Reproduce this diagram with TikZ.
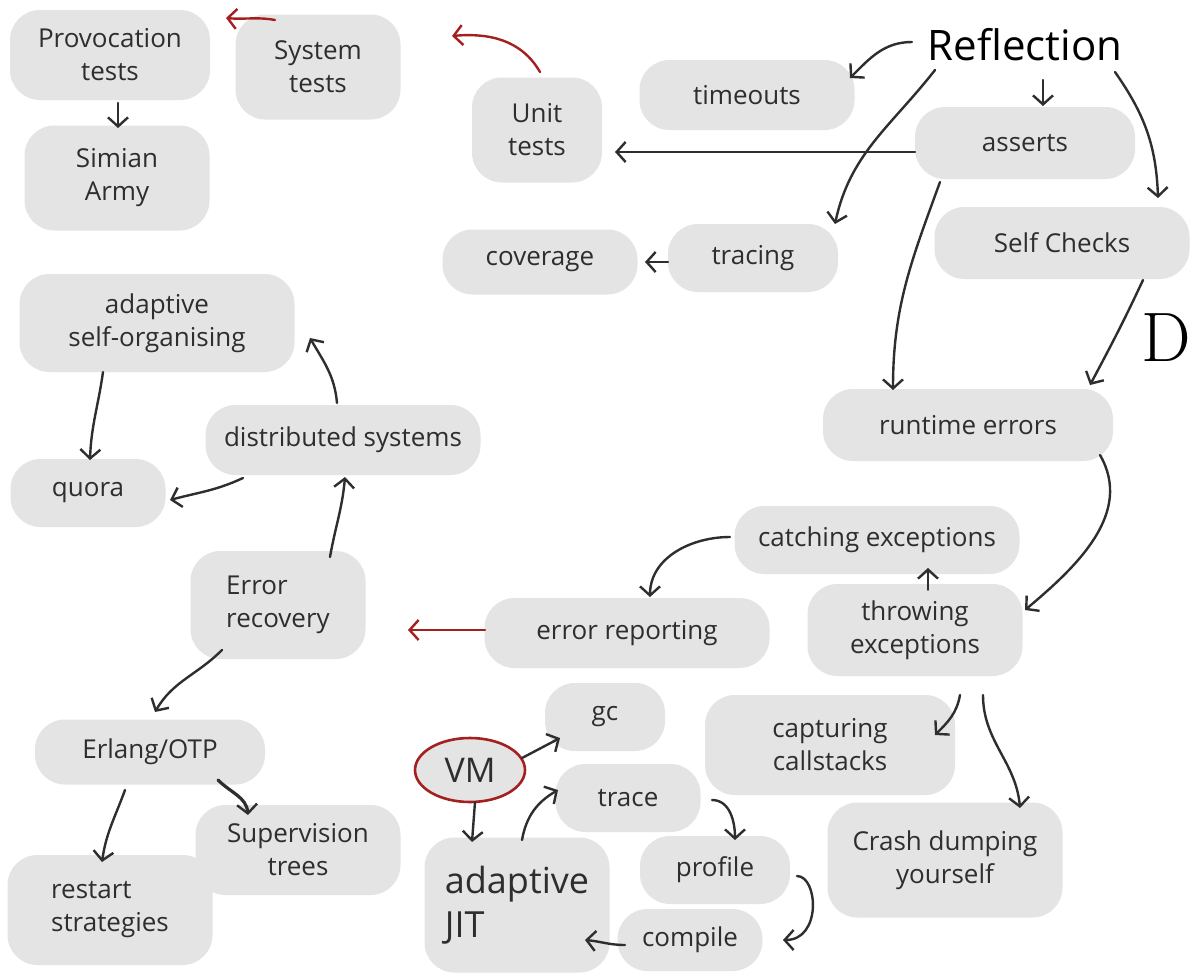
\documentclass[tikz,border=0pt]{standalone}
\usepackage{fontspec}
\setmainfont{Open Sans}
\newfontfamily\markfont{Latin Modern Roman}
\usetikzlibrary{arrows.meta,shapes.geometric}
\definecolor{blobgray}{HTML}{E4E4E4}
\definecolor{ink}{HTML}{2E2E2E}
\definecolor{redink}{HTML}{A3201F}
\tikzset{
  blob/.style={fill=blobgray, rounded corners=30pt, inner sep=0pt,
    align=center, text=ink, font=\fontsize{26}{33}\selectfont},
  link/.style={draw=ink, line width=2.4pt, line cap=round,
    -{Straight Barb[length=9pt,width=20pt,line width=2.4pt]}},
  redlink/.style={link, draw=redink},
}
\begin{document}
\begin{tikzpicture}[x=1pt,y=1pt]
\useasboundingbox (0,0) rectangle (1192,-978);
\fill[white] (0,0) rectangle (1192,-978);

% testing cluster
\node[blob, minimum width=200, minimum height=90] (prov) at (110,-55) {Provocation\\tests};
\node[blob, minimum width=185, minimum height=105] (simian) at (117,-178) {Simian\\Army};
\node[blob, minimum width=165, minimum height=105] (system) at (318,-67) {System\\tests};
\node[blob, minimum width=130, minimum height=105] (unit) at (537,-130) {Unit\\tests};

% reflection cluster
\node[text=black, font=\fontsize{42}{46}\selectfont] (refl) at (1025,-45) {Reflection};
\node[blob, minimum width=215, minimum height=70] (timeouts) at (747,-95) {timeouts};
\node[blob, minimum width=220, minimum height=72] (asserts) at (1025,-143) {asserts};
\node[blob, minimum width=255, minimum height=72] (selfchk) at (1062,-243) {Self Checks};
\node[blob, minimum width=170, minimum height=68] (tracing) at (753,-258) {tracing};
\node[blob, minimum width=195, minimum height=65] (coverage) at (540,-262) {coverage};
\node[blob, minimum width=290, minimum height=72] (runtime) at (968,-425) {runtime errors};

% distributed systems cluster
\node[blob, minimum width=275, minimum height=98] (adaptso) at (157,-323) {adaptive\\self-organising};
\node[blob, minimum width=275, minimum height=70] (distrib) at (343,-440) {distributed systems};
\node[blob, minimum width=155, minimum height=68] (quora) at (88,-493) {quora};
\node[blob, align=left, minimum width=175, minimum height=108] (errrec) at (278,-605) {Error\\recovery};
\node[blob, minimum width=285, minimum height=70] (errrep) at (627,-633) {error reporting};

% exceptions cluster
\node[blob, minimum width=285, minimum height=68] (catching) at (877,-540) {catching exceptions};
\node[blob, minimum width=215, minimum height=92] (throwing) at (915,-630) {throwing\\exceptions};
\node[blob, minimum width=250, minimum height=100] (capturing) at (830,-745) {capturing\\callstacks};
\node[blob, minimum width=235, minimum height=115] (crash) at (945,-860) {Crash dumping\\yourself};

% Erlang cluster
\node[blob, minimum width=230, minimum height=65] (erlang) at (150,-752) {Erlang/OTP};
\node[blob, minimum width=205, minimum height=90] (superv) at (298,-850) {Supervision\\trees};
\node[blob, align=left, minimum width=205, minimum height=110] (restart) at (110,-910) {restart\\strategies};

% VM cluster
\node[blob, ellipse, draw=redink, line width=2.6pt, minimum width=110, minimum height=64,
  font=\fontsize{34}{38}\selectfont] (vm) at (470,-770) {VM};
\node[blob, minimum width=120, minimum height=68] (gc) at (605,-717) {gc};
\node[blob, minimum width=145, minimum height=68] (trace) at (628,-798) {trace};
\node[blob, minimum width=150, minimum height=68] (profile) at (715,-870) {profile};
\node[blob, minimum width=145, minimum height=62] (compile) at (690,-940) {compile};
\node[blob, align=left, minimum width=185, minimum height=135,
  font=\fontsize{36}{44}\selectfont] (jit) at (517,-905) {adaptive\\JIT};

% stray letter on the right margin
\node[anchor=west, inner sep=0pt, font=\markfont\fontsize{70}{72}\selectfont, text=black] (dmark) at (1141,-338) {D};

% connectors
\draw[redlink] ([shift={(-43,47)}]system.center) to[out=170,in=-5] ([shift={(116,37)}]prov.center);
\draw[redlink] ([shift={(3,58)}]unit.center) to[out=120,in=5] ([shift={(134,31)}]system.center);
\draw[link] ([shift={(8,-48)}]prov.center) -- ([shift={(1,50)}]simian.center);

\draw[link] ([shift={(-113,3)}]refl.center) to[out=180,in=45] ([shift={(103,17)}]timeouts.center);
\draw[link] ([shift={(18,-35)}]refl.center) -- ([shift={(18,37)}]asserts.center);
\draw[link] ([shift={(-90,-25)}]refl.center) to[out=232,in=78] ([shift={(82,34)}]tracing.center);
\draw[link] ([shift={(90,-27)}]refl.center) to[out=-55,in=92] ([shift={(96,45)}]selfchk.center);
\draw[link] ([shift={(-110,-9)}]asserts.center) -- ([shift={(78,-22)}]unit.center);
\draw[link] ([shift={(-85,-39)}]asserts.center) to[out=250,in=90] ([shift={(-75,35)}]runtime.center);
\draw[link] ([shift={(81,-37)}]selfchk.center) to[out=245,in=62] ([shift={(122,40)}]runtime.center);
\draw[link] ([shift={(-85,-4)}]tracing.center) -- ([shift={(105,0)}]coverage.center);

\draw[link] ([shift={(132,-30)}]runtime.center) to[out=-60,in=40] ([shift={(110,20)}]throwing.center);
\draw[link, line width=1.8pt] ([shift={(13,40)}]throwing.center) -- ([shift={(51,-28)}]catching.center);
\draw[link] ([shift={(-147,3)}]catching.center) to[out=180,in=90] ([shift={(23,36)}]errrep.center);
\draw[redlink] ([shift={(-142,3)}]errrep.center) -- ([shift={(130,-25)}]errrec.center);
\draw[link] ([shift={(52,48)}]errrec.center) to[out=80,in=-95] ([shift={(2,-37)}]distrib.center);
\draw[link] ([shift={(-6,37)}]distrib.center) to[out=95,in=-60] ([shift={(153,-15)}]adaptso.center);
\draw[link] ([shift={(-100,-38)}]distrib.center) to[out=205,in=15] ([shift={(82,-7)}]quora.center);
\draw[link] ([shift={(-54,-49)}]adaptso.center) to[out=-98,in=88] ([shift={(2,33)}]quora.center);

\draw[link] ([shift={(-56,-45)}]errrec.center) to[out=225,in=60] ([shift={(5,40)}]erlang.center);
\draw[link] ([shift={(-25,-38)}]erlang.center) to[out=-110,in=82] ([shift={(-8,48)}]restart.center);
\draw[link, line width=3.2pt] ([shift={(68,-28)}]erlang.center) to[out=-45,in=95] ([shift={(-50,35)}]superv.center);

\draw[link] ([shift={(52,12)}]vm.center) -- ([shift={(-45,-21)}]gc.center);
\draw[link] ([shift={(5,-32)}]vm.center) -- ([shift={(-45,63)}]jit.center);
\draw[link] ([shift={(5,65)}]jit.center) to[out=80,in=210] ([shift={(-70,8)}]trace.center);
\draw[link] ([shift={(84,-2)}]trace.center) to[out=0,in=90] ([shift={(20,30)}]profile.center);
\draw[link] ([shift={(82,-6)}]profile.center) .. controls (818,-876) and (822,-940) .. ([shift={(93,0)}]compile.center);
\draw[link] ([shift={(-65,-5)}]compile.center) to[out=180,in=-5] ([shift={(68,-35)}]jit.center);

\draw[link] ([shift={(45,-65)}]throwing.center) to[out=-100,in=45] ([shift={(105,10)}]capturing.center);
\draw[link] ([shift={(68,-65)}]throwing.center) to[out=-90,in=95] ([shift={(75,52)}]crash.center);
\end{tikzpicture}
\end{document}
